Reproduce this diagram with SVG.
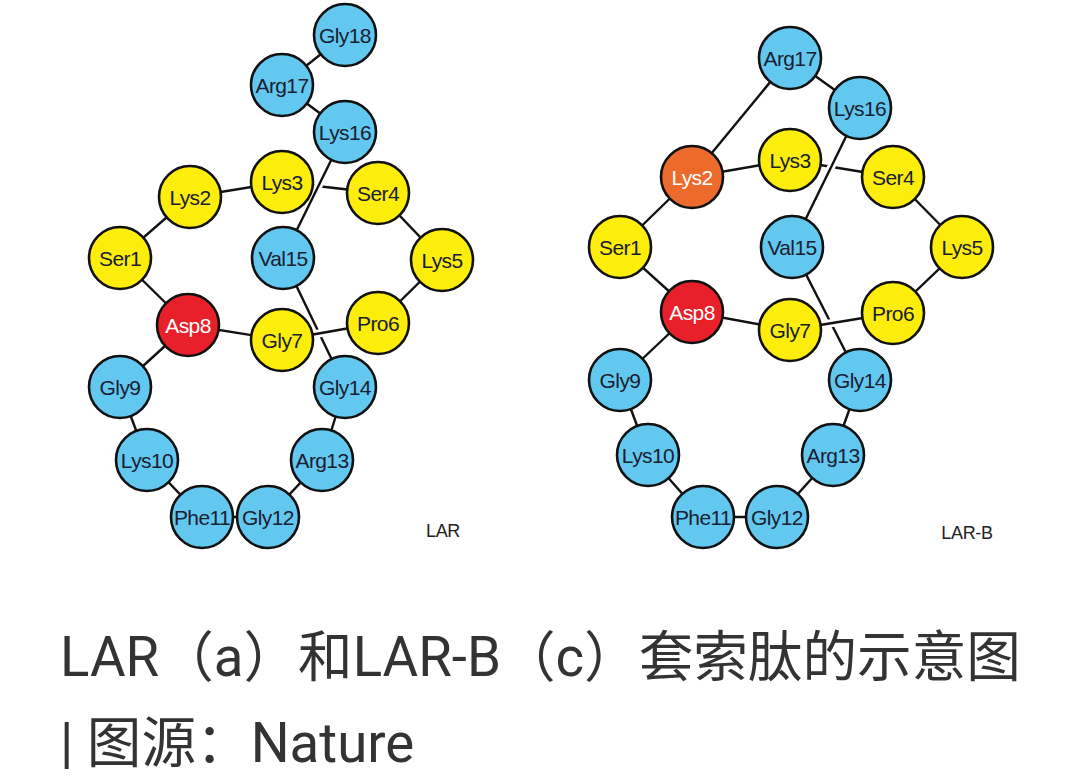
<svg xmlns="http://www.w3.org/2000/svg" width="1080" height="781" viewBox="0 0 1080 781">
<style>
.n circle{stroke:#111;stroke-width:2.6}
.b circle{fill:#62c8f0}
.y circle{fill:#fcee0a}
.r circle{fill:#e8202a}
.o circle{fill:#ec6a2c}
.n text{font-family:"Liberation Sans",Arial,sans-serif;font-size:21px;letter-spacing:-0.6px;fill:#1a2030;text-anchor:middle}
.r text,.o text{fill:#ffffff}
.e line{stroke:#111;stroke-width:2.4}
.e line.gap{stroke:#ffffff;stroke-width:8}
.lbl{font-family:"Liberation Sans",Arial,sans-serif;font-size:18px;letter-spacing:-0.3px;fill:#222;text-anchor:middle}
.cap{font-family:Roboto,"Noto Sans CJK SC",sans-serif;font-size:54.6px;fill:#333333}
</style>
<rect width="1080" height="781" fill="#ffffff"/>

<!-- LAR connectors -->
<g id="edges-lar" class="e">
<line x1="345" y1="35" x2="282" y2="85"/>
<line x1="282" y1="85" x2="345" y2="132"/>
<line x1="190" y1="197" x2="282" y2="182"/>
<line x1="282" y1="182" x2="378" y2="193"/>
<line x1="190" y1="197" x2="120" y2="258"/>
<line x1="120" y1="258" x2="188" y2="325"/>
<line x1="378" y1="193" x2="442" y2="260"/>
<line x1="442" y1="260" x2="378" y2="323"/>
<line x1="188" y1="325" x2="282" y2="340"/>
<line x1="283" y1="258" x2="345" y2="387"/>
<line x1="188" y1="325" x2="120" y2="387"/>
<line x1="120" y1="387" x2="147" y2="460"/>
<line x1="147" y1="460" x2="202" y2="517"/>
<line x1="202" y1="517" x2="268" y2="517"/>
<line x1="268" y1="517" x2="322" y2="460"/>
<line x1="322" y1="460" x2="345" y2="387"/>
<line class="gap" x1="345" y1="132" x2="283" y2="258"/>
<line x1="345" y1="132" x2="283" y2="258"/>
<line class="gap" x1="282" y1="340" x2="378" y2="323"/>
<line x1="282" y1="340" x2="378" y2="323"/>
</g>

<!-- LAR-B connectors -->
<g id="edges-larb" class="e">
<line x1="790" y1="58" x2="860" y2="108"/>
<line x1="790" y1="58" x2="692" y2="177"/>
<line x1="692" y1="177" x2="790" y2="160"/>
<line x1="790" y1="160" x2="893" y2="177"/>
<line x1="692" y1="177" x2="620" y2="247"/>
<line x1="620" y1="247" x2="692" y2="312"/>
<line x1="893" y1="177" x2="962" y2="247"/>
<line x1="962" y1="247" x2="893" y2="313"/>
<line x1="692" y1="312" x2="790" y2="330"/>
<line x1="792" y1="247" x2="860" y2="380"/>
<line x1="692" y1="312" x2="620" y2="380"/>
<line x1="620" y1="380" x2="648" y2="455"/>
<line x1="648" y1="455" x2="703" y2="517"/>
<line x1="703" y1="517" x2="777" y2="517"/>
<line x1="777" y1="517" x2="833" y2="455"/>
<line x1="833" y1="455" x2="860" y2="380"/>
<line class="gap" x1="860" y1="108" x2="792" y2="247"/>
<line x1="860" y1="108" x2="792" y2="247"/>
<line class="gap" x1="790" y1="330" x2="893" y2="313"/>
<line x1="790" y1="330" x2="893" y2="313"/>
</g>

<!-- LAR nodes -->
<g id="lar-gly18" class="n b"><circle cx="345" cy="35" r="31"/><text x="345" y="42.5">Gly18</text></g>
<g id="lar-arg17" class="n b"><circle cx="282" cy="85" r="31"/><text x="282" y="92.5">Arg17</text></g>
<g id="lar-lys16" class="n b"><circle cx="345" cy="132" r="31"/><text x="345" y="139.5">Lys16</text></g>
<g id="lar-lys3" class="n y"><circle cx="282" cy="182" r="31"/><text x="282" y="189.5">Lys3</text></g>
<g id="lar-lys2" class="n y"><circle cx="190" cy="197" r="31"/><text x="190" y="204.5">Lys2</text></g>
<g id="lar-ser4" class="n y"><circle cx="378" cy="193" r="31"/><text x="378" y="200.5">Ser4</text></g>
<g id="lar-ser1" class="n y"><circle cx="120" cy="258" r="31"/><text x="120" y="265.5">Ser1</text></g>
<g id="lar-val15" class="n b"><circle cx="283" cy="258" r="31"/><text x="283" y="265.5">Val15</text></g>
<g id="lar-lys5" class="n y"><circle cx="442" cy="260" r="31"/><text x="442" y="267.5">Lys5</text></g>
<g id="lar-asp8" class="n r"><circle cx="188" cy="325" r="31"/><text x="188" y="332.5">Asp8</text></g>
<g id="lar-gly7" class="n y"><circle cx="282" cy="340" r="31"/><text x="282" y="347.5">Gly7</text></g>
<g id="lar-pro6" class="n y"><circle cx="378" cy="323" r="31"/><text x="378" y="330.5">Pro6</text></g>
<g id="lar-gly9" class="n b"><circle cx="120" cy="387" r="31"/><text x="120" y="394.5">Gly9</text></g>
<g id="lar-gly14" class="n b"><circle cx="345" cy="387" r="31"/><text x="345" y="394.5">Gly14</text></g>
<g id="lar-lys10" class="n b"><circle cx="147" cy="460" r="31"/><text x="147" y="467.5">Lys10</text></g>
<g id="lar-arg13" class="n b"><circle cx="322" cy="460" r="31"/><text x="322" y="467.5">Arg13</text></g>
<g id="lar-phe11" class="n b"><circle cx="202" cy="517" r="31"/><text x="202" y="524.5">Phe11</text></g>
<g id="lar-gly12" class="n b"><circle cx="268" cy="517" r="31"/><text x="268" y="524.5">Gly12</text></g>
<text class="lbl" x="443" y="537">LAR</text>

<!-- LAR-B nodes -->
<g id="larb-arg17" class="n b"><circle cx="790" cy="58" r="31"/><text x="790" y="65.5">Arg17</text></g>
<g id="larb-lys16" class="n b"><circle cx="860" cy="108" r="31"/><text x="860" y="115.5">Lys16</text></g>
<g id="larb-lys2" class="n o"><circle cx="692" cy="177" r="31"/><text x="692" y="184.5">Lys2</text></g>
<g id="larb-lys3" class="n y"><circle cx="790" cy="160" r="31"/><text x="790" y="167.5">Lys3</text></g>
<g id="larb-ser4" class="n y"><circle cx="893" cy="177" r="31"/><text x="893" y="184.5">Ser4</text></g>
<g id="larb-ser1" class="n y"><circle cx="620" cy="247" r="31"/><text x="620" y="254.5">Ser1</text></g>
<g id="larb-val15" class="n b"><circle cx="792" cy="247" r="31"/><text x="792" y="254.5">Val15</text></g>
<g id="larb-lys5" class="n y"><circle cx="962" cy="247" r="31"/><text x="962" y="254.5">Lys5</text></g>
<g id="larb-asp8" class="n r"><circle cx="692" cy="312" r="31"/><text x="692" y="319.5">Asp8</text></g>
<g id="larb-gly7" class="n y"><circle cx="790" cy="330" r="31"/><text x="790" y="337.5">Gly7</text></g>
<g id="larb-pro6" class="n y"><circle cx="893" cy="313" r="31"/><text x="893" y="320.5">Pro6</text></g>
<g id="larb-gly9" class="n b"><circle cx="620" cy="380" r="31"/><text x="620" y="387.5">Gly9</text></g>
<g id="larb-gly14" class="n b"><circle cx="860" cy="380" r="31"/><text x="860" y="387.5">Gly14</text></g>
<g id="larb-lys10" class="n b"><circle cx="648" cy="455" r="31"/><text x="648" y="462.5">Lys10</text></g>
<g id="larb-arg13" class="n b"><circle cx="833" cy="455" r="31"/><text x="833" y="462.5">Arg13</text></g>
<g id="larb-phe11" class="n b"><circle cx="703" cy="517" r="31"/><text x="703" y="524.5">Phe11</text></g>
<g id="larb-gly12" class="n b"><circle cx="777" cy="517" r="31"/><text x="777" y="524.5">Gly12</text></g>
<text class="lbl" x="967" y="539">LAR-B</text>

<text class="cap" x="60" y="676">LAR（a）和LAR-B（c）套索肽的示意图</text>
<text class="cap" x="60" y="762">| 图源：Nature</text>
</svg>
